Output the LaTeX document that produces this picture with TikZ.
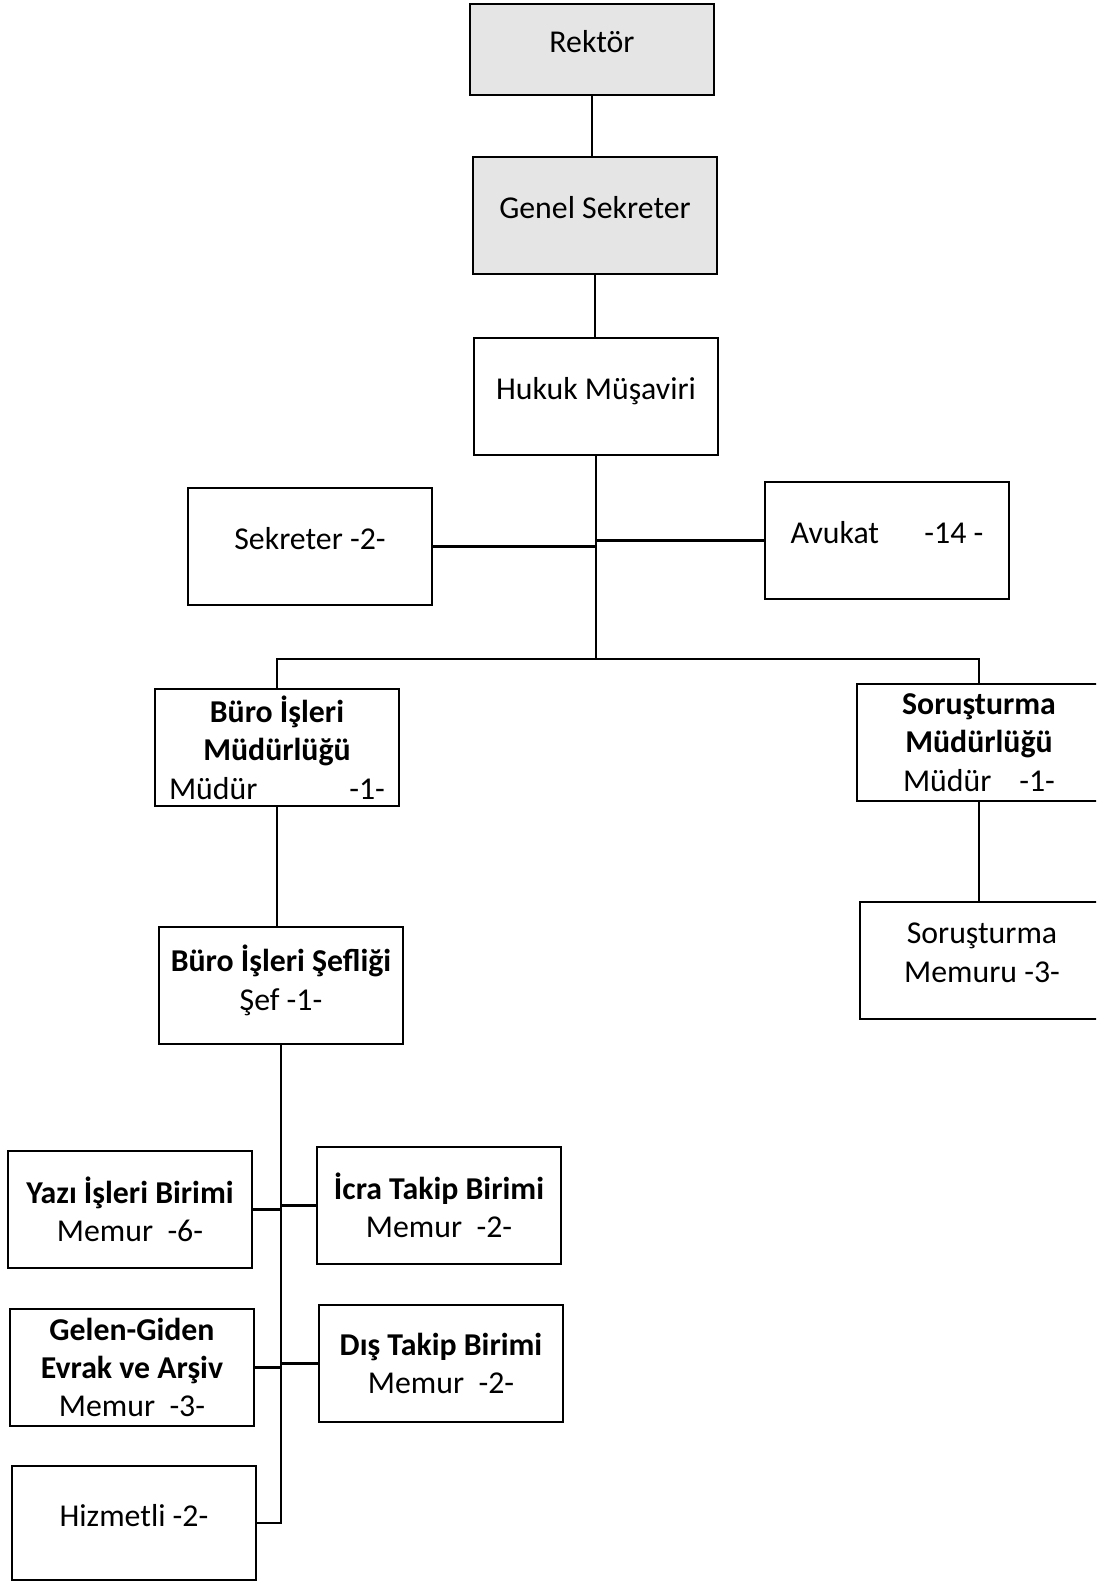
\documentclass[tikz,border=0pt]{standalone}
\usepackage{fontspec}
\setmainfont{Carlito}
\begin{document}
\begin{tikzpicture}[x=0.5pt,y=-0.5pt,
box/.style={%
anchor=north west,
draw,
line width=1pt,
minimum width=122pt,
minimum height=58.5pt,
align=center,
inner sep=2pt,
font=\fontsize{15.9}{19.2}\selectfont,
},
grey/.style={%
box,
fill=black!10,
},
high/.style={%
text depth=8pt,
},
link/.style={%
line width=1.1pt,
},
]
\useasboundingbox(0,0)rectangle(1096,1582);
\clip(0,0)rectangle(1096,1582);
%% top
\node[grey,high,minimum height=45.5pt]at(469,3)(rektor){Rektör};
\node[grey,high]at(472,156)(genel){Genel Sekreter};
\node[box,high]at(473,337)(hukuk){Hukuk Müşaviri};
\node[box,high]at(187,487)(sekreter){Sekreter -2-};
\node[box,high]at(764,481)(avukat){Avukat\hspace{22.7pt}-14 -};
%% mudurlukler
\node[box]at(154,688)(burom){\textbf{Büro İşleri}\\\textbf{Müdürlüğü}\\Müdür\hspace{46pt}-1-};
\node[box]at(856,683)(sorm){\textbf{Soruşturma}\\\textbf{Müdürlüğü}\\Müdür\hspace{14pt}-1-};
\node[box,high]at(859,901)(sormem){Soruşturma\\Memuru -3-};
\node[box,high]at(158,926)(sef){\textbf{Büro İşleri Şefliği}\\Şef -1-};
%% birimler
\node[box]at(7,1150)(yazi){\textbf{Yazı İşleri Birimi}\\Memur~ -6-};
\node[box]at(316,1146)(icra){\textbf{İcra Takip Birimi}\\Memur~ -2-};
\node[box]at(9,1308)(gelen){\textbf{Gelen-Giden}\\\textbf{Evrak ve Arşiv}\\Memur~ -3-};
\node[box]at(318,1304)(dis){\textbf{Dış Takip Birimi}\\Memur~ -2-};
\node[box,high,minimum height=57pt]at(11,1465)(hizmetli){Hizmetli -2-};
%% lines
\coordinate(bus)at(hukuk.south|-0,659);
\draw[link](rektor.south)--(rektor.south|-genel.north);
\draw[link](genel.south)--(genel.south|-hukuk.north);
\draw[link](hukuk.south)--(bus);
\draw[link](sekreter.east)--(sekreter.east-|bus);
\draw[link](avukat.west)--(avukat.west-|bus);
\draw[link](burom.north)|-(bus)-|(sorm.north);
\draw[link](sorm.south)--(sorm.south|-sormem.north);
\draw[link](burom.south)--(burom.south|-sef.north);
\draw[link](sef.south)|-(hizmetli.east);
\draw[link](yazi.east)--(yazi.east-|sef.south);
\draw[link](icra.west)--(icra.west-|sef.south);
\draw[link](gelen.east)--(gelen.east-|sef.south);
\draw[link](dis.west)--(dis.west-|sef.south);
\end{tikzpicture}
\end{document}
